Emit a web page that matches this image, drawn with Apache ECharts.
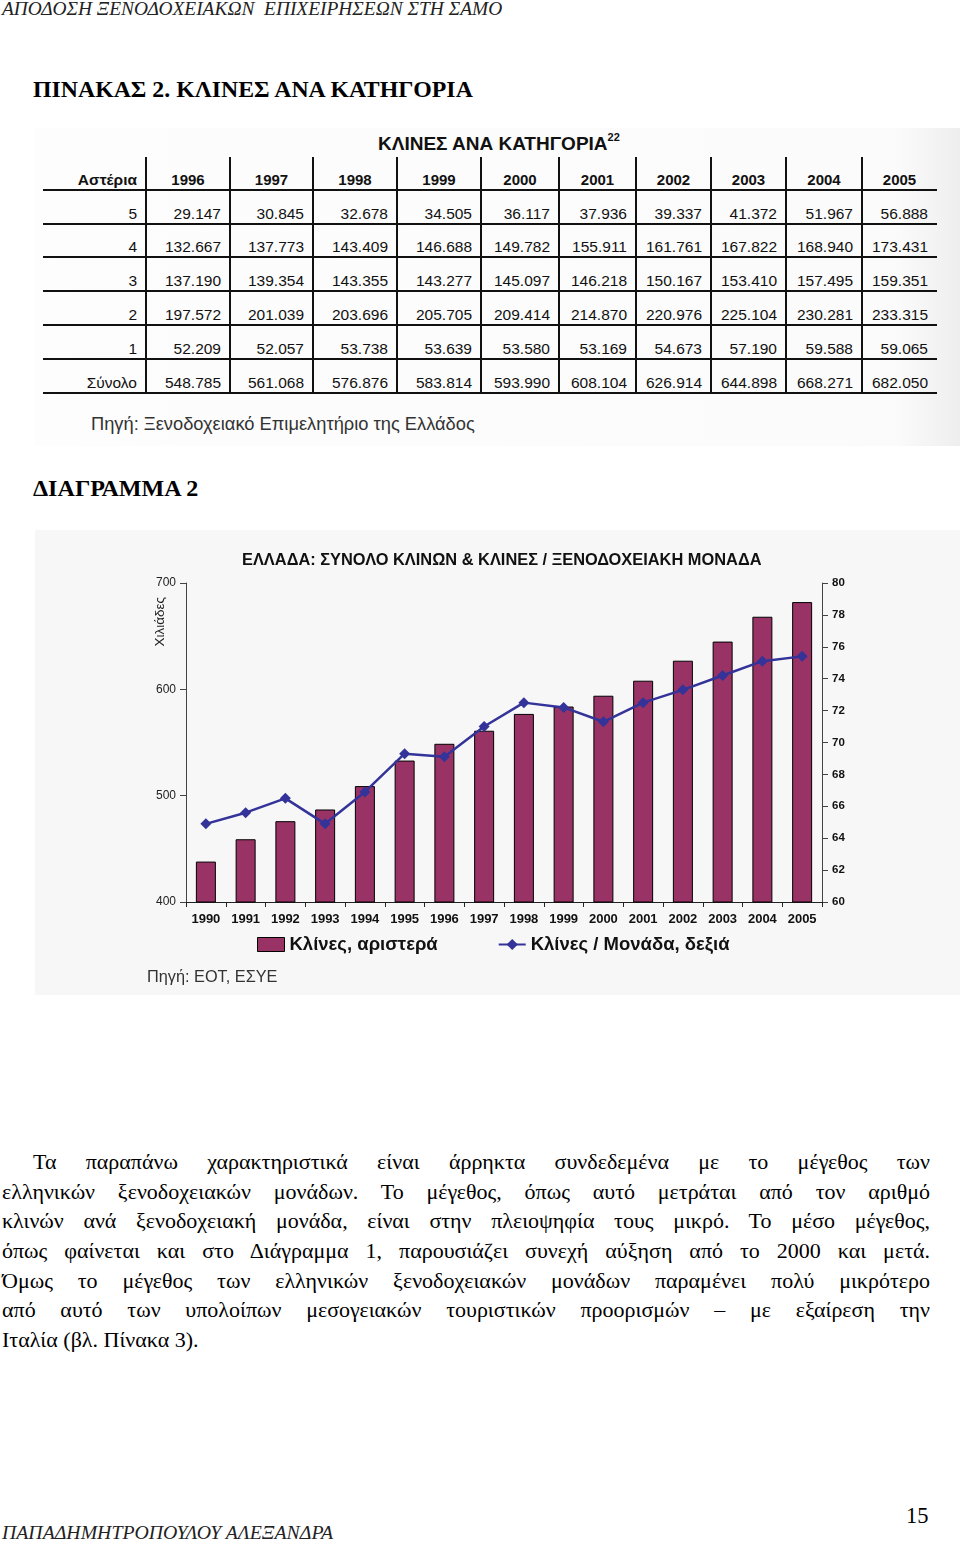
<!DOCTYPE html>
<html>
<head>
<meta charset="utf-8">
<script src="https://cdn.jsdelivr.net/npm/echarts@6/dist/echarts.min.js"></script>
<style>
  html, body { margin: 0; padding: 0; background: #fff; }
  #page { position: relative; width: 960px; height: 1544px; overflow: hidden; background: #fff; }
  .serif { font-family: "Liberation Serif", "DejaVu Serif", serif; color: #000; }
  .sans { font-family: "Liberation Sans", Arial, sans-serif; }
  .abs { position: absolute; white-space: nowrap; }
  #tableBox { position: absolute; left: 35px; top: 128px; width: 925px; height: 318px; background: linear-gradient(90deg, #fdfdfd 0%, #fbfbfb 93%, #eeeeee 100%); }
  #chartBox { position: absolute; left: 35px; top: 530px; width: 925px; height: 465px; background: #f7f7f7; }
  .hl { position: absolute; height: 2px; background: #111; }
  .vl { position: absolute; width: 2px; background: #111; }
  .cell { position: absolute; font-family: "Liberation Sans", Arial, sans-serif; font-size: 15.5px; color: #111; line-height: 18px; white-space: nowrap; }
  .para div { height: 29.7px; line-height: 29.7px; text-align: justify; text-align-last: justify; white-space: nowrap; }
</style>
</head>
<body>
<div id="page">
  <div class="abs serif" style="left:2px; top:-2px; font-size:19.4px; font-style:italic; color:#222; white-space:pre;">ΑΠΟΔΟΣΗ ΞΕΝΟΔΟΧΕΙΑΚΩΝ  ΕΠΙΧΕΙΡΗΣΕΩΝ ΣΤΗ ΣΑΜΟ</div>
  <div class="abs serif" style="left:33px; top:76px; font-size:23.8px; font-weight:bold;">ΠΙΝΑΚΑΣ 2. ΚΛΙΝΕΣ ΑΝΑ ΚΑΤΗΓΟΡΙΑ</div>

  <div id="tableBox"></div>
  <div id="tableLayer"></div>

  <div class="abs serif" style="left:33px; top:475px; font-size:24.1px; font-weight:bold;">ΔΙΑΓΡΑΜΜΑ 2</div>

  <div id="chartBox"></div>

  <div class="para serif" style="position:absolute; left:2px; top:1147px; width:928px; font-size:22px;">
    <div style="padding-left:31px;">Τα παραπάνω χαρακτηριστικά είναι άρρηκτα συνδεδεμένα με το μέγεθος των</div>
    <div>ελληνικών ξενοδοχειακών μονάδων. Το μέγεθος, όπως αυτό μετράται από τον αριθμό</div>
    <div>κλινών ανά ξενοδοχειακή μονάδα, είναι στην πλειοψηφία τους μικρό. Το μέσο μέγεθος,</div>
    <div>όπως φαίνεται και στο Διάγραμμα 1, παρουσιάζει συνεχή αύξηση από το 2000 και μετά.</div>
    <div>Όμως το μέγεθος των ελληνικών ξενοδοχειακών μονάδων παραμένει πολύ μικρότερο</div>
    <div>από αυτό των υπολοίπων μεσογειακών τουριστικών προορισμών – με εξαίρεση την</div>
    <div style="text-align:left; text-align-last:left;">Ιταλία (βλ. Πίνακα 3).</div>
  </div>

  <div class="abs serif" style="left:906px; top:1503px; font-size:22.5px;">15</div>
  <div class="abs serif" style="left:2px; top:1521px; font-size:19.8px; font-style:italic; color:#222;">ΠΑΠΑΔΗΜΗΤΡΟΠΟΥΛΟΥ ΑΛΕΞΑΝΔΡΑ</div>
</div>

<script>
// ---------- Table data (Πίνακας 2) ----------
const tableTitle = 'ΚΛΙΝΕΣ ΑΝΑ ΚΑΤΗΓΟΡΙΑ';
const tableNote = '22';
const tableHeaderLabel = 'Αστέρια';
const tableYears = ['1996', '1997', '1998', '1999', '2000', '2001', '2002', '2003', '2004', '2005'];
const rowLabels = ['5', '4', '3', '2', '1', 'Σύνολο'];
const stars5 = ['29.147', '30.845', '32.678', '34.505', '36.117', '37.936', '39.337', '41.372', '51.967', '56.888'];
const stars4 = ['132.667', '137.773', '143.409', '146.688', '149.782', '155.911', '161.761', '167.822', '168.940', '173.431'];
const stars3 = ['137.190', '139.354', '143.355', '143.277', '145.097', '146.218', '150.167', '153.410', '157.495', '159.351'];
const stars2 = ['197.572', '201.039', '203.696', '205.705', '209.414', '214.870', '220.976', '225.104', '230.281', '233.315'];
const stars1 = ['52.209', '52.057', '53.738', '53.639', '53.580', '53.169', '54.673', '57.190', '59.588', '59.065'];
const totals = ['548.785', '561.068', '576.876', '583.814', '593.990', '608.104', '626.914', '644.898', '668.271', '682.050'];
const tableSource = 'Πηγή: Ξενοδοχειακό Επιμελητήριο της Ελλάδος';

// ---------- Chart data (Διάγραμμα 2) ----------
const chartTitle = 'ΕΛΛΑΔΑ: ΣΥΝΟΛΟ ΚΛΙΝΩΝ & ΚΛΙΝΕΣ / ΞΕΝΟΔΟΧΕΙΑΚΗ ΜΟΝΑΔΑ';
const chartYears = ['1990', '1991', '1992', '1993', '1994', '1995', '1996', '1997', '1998', '1999', '2000', '2001', '2002', '2003', '2004', '2005'];
const bedsThousands = [438, 459, 476, 487, 509, 533, 548.785, 561.068, 576.876, 583.814, 593.990, 608.104, 626.914, 644.898, 668.271, 682.050];
const bedsPerUnit = [64.9, 65.6, 66.5, 64.9, 66.9, 69.3, 69.1, 71.0, 72.5, 72.2, 71.3, 72.5, 73.3, 74.2, 75.1, 75.4];
const barName = 'Κλίνες, αριστερά';
const lineName = 'Κλίνες / Μονάδα, δεξιά';
const leftAxisName = 'Χιλιάδες';
const chartSource = 'Πηγή: ΕΟΤ, ΕΣΥΕ';

// ---------- Build table ----------
(function buildTable() {
  const layer = document.getElementById('tableLayer');
  const colEdges = [43, 146, 230, 313, 397, 481, 559, 636, 711, 786, 862, 937];
  const headerTop = 157, headerBottom = 190;
  const rowBottoms = [224, 257, 291, 325, 359, 393];
  let html = '';
  html += '<div class="abs sans" style="left:378px; top:133px; font-size:19px; font-weight:bold; color:#111;">' + tableTitle +
          '<sup style="font-size:11px; font-weight:bold; position:relative; top:-2px;">' + tableNote + '</sup></div>';
  const hLines = [headerBottom].concat(rowBottoms);
  hLines.forEach(y => { html += '<div class="hl" style="left:' + colEdges[0] + 'px; top:' + (y - 1) + 'px; width:' + (colEdges[colEdges.length - 1] - colEdges[0]) + 'px;"></div>'; });
  for (let i = 1; i < colEdges.length - 1; i++) {
    html += '<div class="vl" style="left:' + (colEdges[i] - 1) + 'px; top:' + headerTop + 'px; height:' + (rowBottoms[rowBottoms.length - 1] - headerTop) + 'px;"></div>';
  }
  html += '<div class="cell" style="font-weight:bold; left:' + colEdges[0] + 'px; width:' + (colEdges[1] - colEdges[0] - 9) + 'px; text-align:right; top:' + (headerBottom - 19) + 'px;">' + tableHeaderLabel + '</div>';
  tableYears.forEach((y, i) => {
    html += '<div class="cell" style="font-weight:bold; font-size:15px; left:' + colEdges[i + 1] + 'px; width:' + (colEdges[i + 2] - colEdges[i + 1]) + 'px; text-align:center; top:' + (headerBottom - 19) + 'px;">' + y + '</div>';
  });
  const rows = [stars5, stars4, stars3, stars2, stars1, totals];
  rows.forEach((vals, r) => {
    const top = rowBottoms[r] - 19;
    html += '<div class="cell" style="left:' + colEdges[0] + 'px; width:' + (colEdges[1] - colEdges[0] - 9) + 'px; text-align:right; top:' + top + 'px;">' + rowLabels[r] + '</div>';
    vals.forEach((v, i) => {
      html += '<div class="cell" style="left:' + colEdges[i + 1] + 'px; width:' + (colEdges[i + 2] - colEdges[i + 1] - 9) + 'px; text-align:right; top:' + top + 'px;">' + v + '</div>';
    });
  });
  html += '<div class="abs sans" style="left:91px; top:413px; font-size:18.3px; color:#333;">' + tableSource + '</div>';
  layer.innerHTML = html;
})();

// ---------- Chart ----------
const chart = echarts.init(document.getElementById('chartBox'), null, { renderer: 'canvas' });
chart.setOption({
  animation: false,
  backgroundColor: 'transparent',
  textStyle: { fontFamily: '"Liberation Sans", Arial, sans-serif' },
  title: {
    text: chartTitle,
    left: 202,
    top: 17,
    padding: 5,
    textStyle: { fontSize: 16.4, fontWeight: 'bold', color: '#111' }
  },
  grid: { left: 151, right: 138, top: 53, bottom: 93, containLabel: false },
  legend: {
    left: 217,
    top: 400,
    itemGap: 60,
    itemWidth: 27,
    itemHeight: 14,
    textStyle: { fontSize: 18.5, fontWeight: 'bold', color: '#111' },
    data: [
      { name: barName, icon: 'rect', itemStyle: { color: '#993366', borderColor: '#000', borderWidth: 1 } },
      { name: lineName }
    ]
  },
  xAxis: {
    type: 'category',
    data: chartYears,
    boundaryGap: true,
    axisLine: { lineStyle: { color: '#222', width: 1 } },
    axisTick: { show: true, inside: false, length: 5, lineStyle: { color: '#222' } },
    axisLabel: { fontSize: 13, fontWeight: 'bold', color: '#111', margin: 11 }
  },
  yAxis: [
    {
      type: 'value',
      min: 400, max: 700, interval: 100,
      axisLine: { show: true, lineStyle: { color: '#444' } },
      axisTick: { show: true, length: 6, lineStyle: { color: '#444' } },
      axisLabel: { fontSize: 12, color: '#222', margin: 10 },
      splitLine: { show: false }
    },
    {
      type: 'value',
      min: 60, max: 80, interval: 2,
      position: 'right',
      axisLine: { show: true, lineStyle: { color: '#444' } },
      axisTick: { show: true, length: 6, lineStyle: { color: '#444' } },
      axisLabel: { fontSize: 11.5, fontWeight: 'bold', color: '#111', margin: 10 },
      splitLine: { show: false }
    }
  ],
  series: [
    {
      name: barName,
      type: 'bar',
      data: bedsThousands,
      yAxisIndex: 0,
      barWidth: 20,
      itemStyle: { color: '#993366', borderColor: '#000', borderWidth: 1 }
    },
    {
      name: lineName,
      type: 'line',
      data: bedsPerUnit,
      yAxisIndex: 1,
      symbol: 'diamond',
      symbolSize: 11,
      lineStyle: { color: '#333399', width: 2.5 },
      itemStyle: { color: '#333399' },
      z: 5
    }
  ],
  graphic: [
    {
      type: 'text',
      left: 118, top: 67,
      rotation: Math.PI / 2,
      style: { text: leftAxisName, font: '13.5px "Liberation Sans", Arial, sans-serif', fill: '#222' }
    },
    {
      type: 'text',
      left: 112, top: 440,
      style: { text: chartSource, font: '16.3px "Liberation Sans", Arial, sans-serif', fill: '#333' }
    }
  ]
});
</script>
</body>
</html>
